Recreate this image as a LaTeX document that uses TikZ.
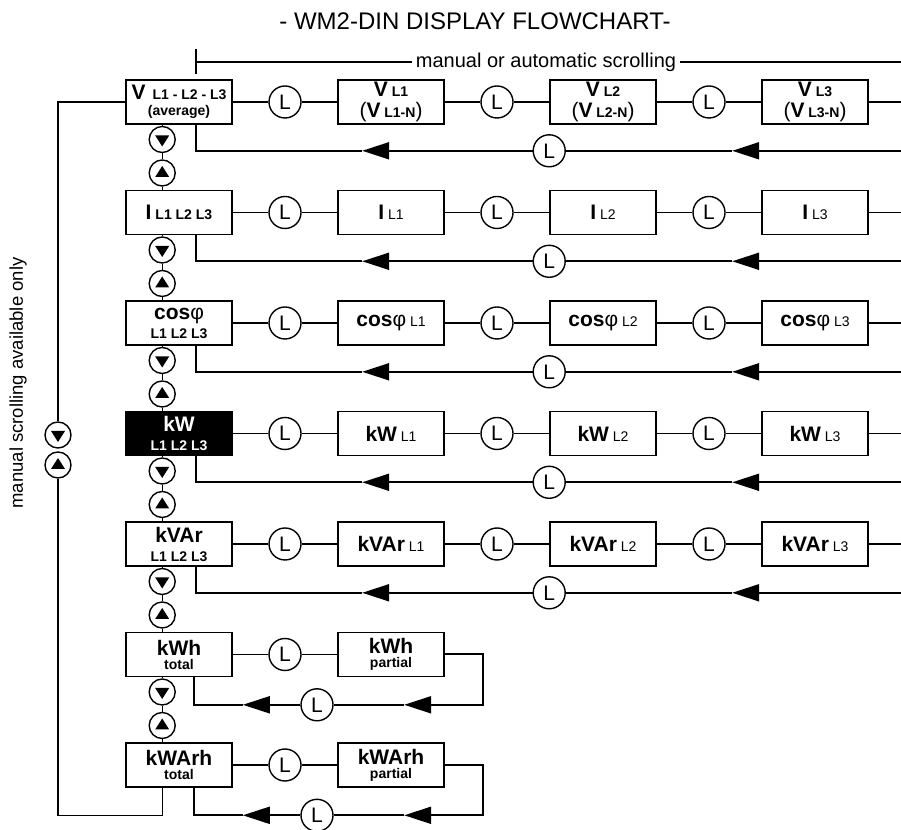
\documentclass[tikz,border=0pt]{standalone}
\usepackage{fontspec}
\setmainfont{Liberation Sans}
\usetikzlibrary{positioning,calc,arrows.meta}

\newcommand{\fbig}{\fontsize{21}{22}\selectfont}
\newcommand{\fsml}{\fontsize{14}{15}\selectfont}

\tikzset{
  disp/.style={draw, rectangle, line width=1.6pt, minimum width=106pt, minimum height=44pt, inner sep=0pt, align=center, font=\fsml},
  lamp/.style={draw, circle, line width=1.4pt, fill=white, minimum size=32pt, inner sep=0pt, font=\fbig},
  keydn/.style={draw, circle, line width=1.4pt, fill=white, minimum size=26pt, inner sep=0pt,
    path picture={\fill[black] ($(path picture bounding box.center)+(-7,4)$) -- ++(14,0) -- ++(-7,-11) -- cycle;}},
  keyup/.style={draw, circle, line width=1.4pt, fill=white, minimum size=26pt, inner sep=0pt,
    path picture={\fill[black] ($(path picture bounding box.center)+(-7,-4)$) -- ++(14,0) -- ++(-7,11) -- cycle;}},
  retarrow/.style={line width=2pt, -{Triangle[length=27pt,width=17pt]}}
}

\begin{document}
\begin{tikzpicture}[x=1pt, y=1pt, node distance=35.5pt, line width=1.3pt]
\useasboundingbox (0,0) rectangle (901,829);
\coordinate (edge) at (901,0);

% headings
\node (title) at (475,808) {\fontsize{24}{26}\selectfont - WM2-DIN DISPLAY FLOWCHART-};
\node (auto) at (546,767) {\fontsize{20}{22}\selectfont manual or automatic scrolling};
\node (manual) [rotate=90] at (18,446) {\fontsize{18.5}{20}\selectfont manual scrolling available only};

% voltage
\node (v0) [disp] at (179,727) {{\fbig\bfseries V}\hspace{7pt}\textbf{L1 - L2 - L3}\\[1pt]\textbf{(average)}};
\node (vl1) [lamp, right=of v0] {L};
\node (v1) [disp, right=of vl1] {{\fbig\bfseries V}\ \textbf{L1}\\[4pt]{\fbig(\textbf{V}}\ \textbf{L1-N}{\fbig)}};
\node (vl2) [lamp, right=of v1] {L};
\node (v2) [disp, right=of vl2] {{\fbig\bfseries V}\ \textbf{L2}\\[4pt]{\fbig(\textbf{V}}\ \textbf{L2-N}{\fbig)}};
\node (vl3) [lamp, right=of v2] {L};
\node (v3) [disp, right=of vl3] {{\fbig\bfseries V}\ \textbf{L3}\\[4pt]{\fbig(\textbf{V}}\ \textbf{L3-N}{\fbig)}};

% current
\node (i0) [disp] at (179,616.5) {{\fbig\bfseries I}\ \textbf{L1 L2 L3}};
\node (il1) [lamp, right=of i0] {L};
\node (i1) [disp, right=of il1] {{\fbig\bfseries I}\ L1};
\node (il2) [lamp, right=of i1] {L};
\node (i2) [disp, right=of il2] {{\fbig\bfseries I}\ L2};
\node (il3) [lamp, right=of i2] {L};
\node (i3) [disp, right=of il3] {{\fbig\bfseries I}\ L3};

% power factor
\node (cos0) [disp] at (179,506) {{\fbig\bfseries cos}{\fbig φ}\\[4pt]\textbf{L1 L2 L3}};
\node (cosl1) [lamp, right=of cos0] {L};
\node (cos1) [disp, right=of cosl1] {{\fbig\bfseries cos}{\fbig φ}\ L1};
\node (cosl2) [lamp, right=of cos1] {L};
\node (cos2) [disp, right=of cosl2] {{\fbig\bfseries cos}{\fbig φ}\ L2};
\node (cosl3) [lamp, right=of cos2] {L};
\node (cos3) [disp, right=of cosl3] {{\fbig\bfseries cos}{\fbig φ}\ L3};

% active power
\node (kw0) [disp, fill=black, text=white] at (179,395.5) {{\fbig\bfseries kW}\\[4pt]\textbf{L1 L2 L3}};
\node (kwl1) [lamp, right=of kw0] {L};
\node (kw1) [disp, right=of kwl1] {{\fbig\bfseries kW}\ L1};
\node (kwl2) [lamp, right=of kw1] {L};
\node (kw2) [disp, right=of kwl2] {{\fbig\bfseries kW}\ L2};
\node (kwl3) [lamp, right=of kw2] {L};
\node (kw3) [disp, right=of kwl3] {{\fbig\bfseries kW}\ L3};

% reactive power
\node (kvar0) [disp] at (179,285) {{\fbig\bfseries kVAr}\\[4pt]\textbf{L1 L2 L3}};
\node (kvarl1) [lamp, right=of kvar0] {L};
\node (kvar1) [disp, right=of kvarl1] {{\fbig\bfseries kVAr}\ L1};
\node (kvarl2) [lamp, right=of kvar1] {L};
\node (kvar2) [disp, right=of kvarl2] {{\fbig\bfseries kVAr}\ L2};
\node (kvarl3) [lamp, right=of kvar2] {L};
\node (kvar3) [disp, right=of kvarl3] {{\fbig\bfseries kVAr}\ L3};

% energy
\node (kwh0) [disp] at (179,174.5) {{\fbig\bfseries kWh}\\[-1pt]\textbf{total}};
\node (kwhl1) [lamp, right=of kwh0] {L};
\node (kwh1) [disp, right=of kwhl1] {{\fbig\bfseries kWh}\\[-1pt]\textbf{partial}};
\node (kwarh0) [disp] at (179,64) {{\fbig\bfseries kWArh}\\[-1pt]\textbf{total}};
\node (kwarhl1) [lamp, right=of kwarh0] {L};
\node (kwarh1) [disp, right=of kwarhl1] {{\fbig\bfseries kWArh}\\[-1pt]\textbf{partial}};

% up / down keys
\node (vdn) [keydn, below=1pt of v0.south west, xshift=37pt] {};
\node (iup) [keyup, above=3pt of i0.north west, xshift=37pt] {};
\node (idn) [keydn, below=1pt of i0.south west, xshift=37pt] {};
\node (cosup) [keyup, above=3pt of cos0.north west, xshift=37pt] {};
\node (cosdn) [keydn, below=1pt of cos0.south west, xshift=37pt] {};
\node (kwup) [keyup, above=3pt of kw0.north west, xshift=37pt] {};
\node (kwdn) [keydn, below=1pt of kw0.south west, xshift=37pt] {};
\node (kvarup) [keyup, above=3pt of kvar0.north west, xshift=37pt] {};
\node (kvardn) [keydn, below=1pt of kvar0.south west, xshift=37pt] {};
\node (kwhup) [keyup, above=3pt of kwh0.north west, xshift=37pt] {};
\node (kwhdn) [keydn, below=1pt of kwh0.south west, xshift=37pt] {};
\node (kwarhup) [keyup, above=3pt of kwarh0.north west, xshift=37pt] {};
\node (ldn) [keydn] at (58,394) {};
\node (lup) [keyup] at (58,364) {};

% scrolling marker
\coordinate (vb) at ($(v0.south)+(17,-26)$);
\draw ($(vb |- auto)+(0,13)$) -- ($(vb |- auto)+(0,-12)$);
\draw (vb |- auto) -- (auto.west);
\draw (auto.east) -- (auto.east -| edge);

% rows with three phases
\foreach \row in {v,i,cos,kw,kvar}{
  \draw (\row0) -- (\row l1) -- (\row1) -- (\row l2) -- (\row2) -- (\row l3) -- (\row3);
  \draw (\row3.east) -- (\row3.east -| edge);
  \coordinate (\row b) at ($(\row0.south)+(17,-26)$);
  \coordinate (\row t1) at ($(\row b -| \row3.west)+(-29,0)$);
  \coordinate (\row t2) at ($(\row b -| \row1.west)+(25,0)$);
  \node (\row r) [lamp] at (\row b -| \row2.west) {L};
  \draw[retarrow] (\row b -| edge) -- (\row t1);
  \draw[line width=2pt] (\row t1) -- (\row r);
  \draw[retarrow] (\row r) -- (\row t2);
  \draw[line width=2pt] (\row t2) -- (\row b) -- (\row b |- \row0.south);
}

% energy rows
\foreach \row in {kwh,kwarh}{
  \draw (\row0) -- (\row l1) -- (\row1);
  \coordinate (\row b) at ($(\row0.south)+(15,-27.5)$);
  \coordinate (\row e) at ($(\row1.east)+(38,0)$);
  \coordinate (\row t1) at ($(\row b -| \row1.west)+(67,0)$);
  \coordinate (\row t2) at ($(\row b -| \row0.east)+(10,0)$);
  \node (\row r) [lamp] at ($(\row b -| \row l1)+(32,0)$) {L};
  \draw[retarrow] (\row1.east) -- (\row e) -- (\row e |- \row b) -- (\row t1);
  \draw[line width=2pt] (\row t1) -- (\row r);
  \draw[retarrow] (\row r) -- (\row t2);
  \draw[line width=2pt] (\row t2) -- (\row b) -- (\row b |- \row0.south);
}

% key chain between rows
\foreach \rowa/\rowb in {v/i,i/cos,cos/kw,kw/kvar,kvar/kwh,kwh/kwarh}{
  \draw (\rowa0.south -| \rowa dn) -- (\rowa dn) -- (\rowb up) -- (\rowb0.north -| \rowb up);
}

% manual loop
\draw (kwarh0.south -| vdn) -- (vdn |- kwarhb) -- (ldn |- kwarhb) -- (lup);
\draw (ldn) -- (ldn |- v0) -- (v0);
\end{tikzpicture}
\end{document}
